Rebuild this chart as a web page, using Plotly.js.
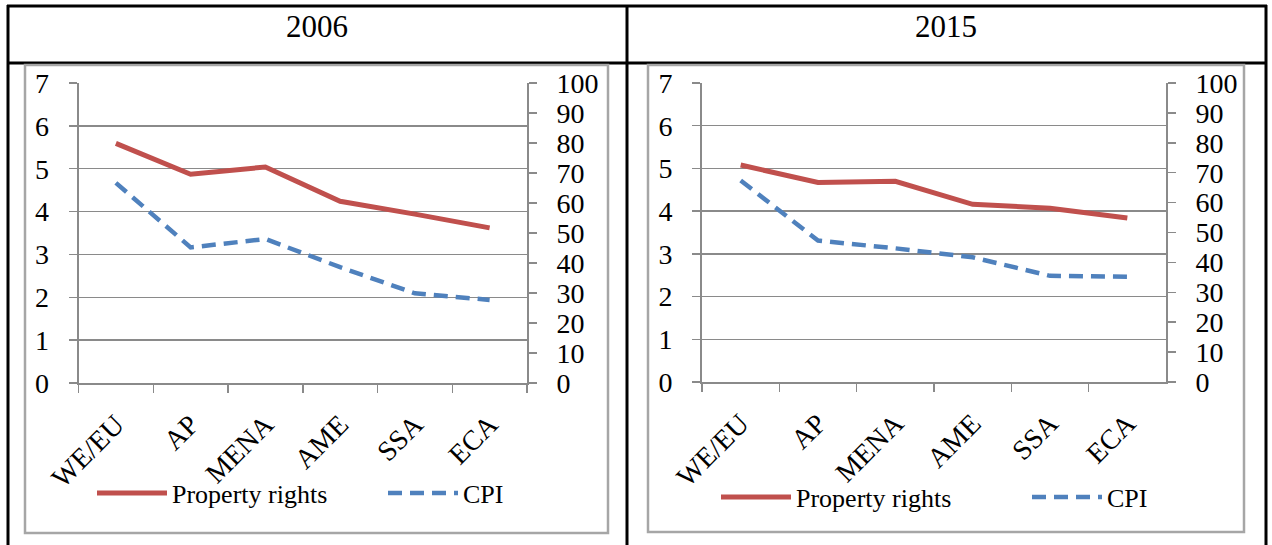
<!DOCTYPE html>
<html>
<head>
<meta charset="utf-8">
<script src="https://cdn.plot.ly/plotly-3.0.1.min.js"></script>
<style>html,body{margin:0;padding:0;background:#fff;overflow:hidden;}#chart{width:1272px;height:545px;}</style>
</head>
<body>
<div id="chart"></div>
<script>
var categories = ["WE/EU", "AP", "MENA", "AME", "SSA", "ECA"];
var panelTitles = ["2006", "2015"];
var seriesNames = ["Property rights", "CPI"];
var property2006 = [5.59, 4.87, 5.04, 4.24, 3.94, 3.62];
var cpi2006 = [66.7, 45.2, 48.0, 38.6, 29.9, 27.7];
var property2015 = [5.08, 4.67, 4.70, 4.16, 4.07, 3.84];
var cpi2015 = [67.4, 47.3, 44.7, 41.7, 35.5, 35.2];
var leftTicks = [0, 1, 2, 3, 4, 5, 6, 7];
var rightTicks = [0, 10, 20, 30, 40, 50, 60, 70, 80, 90, 100];

var W = 1272, H = 545;
function px(x) { return x / W; }
function py(y) { return 1 - y / H; }

var FONT = "Liberation Serif";
var RED = "#C0504D", BLUE = "#4F81BD", GRID = "#8a8a8a";

var traces = [
  {x: categories, y: property2006, name: seriesNames[0], type: "scatter", mode: "lines",
   line: {color: RED, width: 5}, xaxis: "x", yaxis: "y", legend: "legend"},
  {x: categories, y: cpi2006, name: seriesNames[1], type: "scatter", mode: "lines",
   line: {color: BLUE, width: 4.5, dash: "14px,8px"}, xaxis: "x", yaxis: "y2", legend: "legend"},
  {x: categories, y: property2015, name: seriesNames[0], type: "scatter", mode: "lines",
   line: {color: RED, width: 5}, xaxis: "x2", yaxis: "y3", legend: "legend2"},
  {x: categories, y: cpi2015, name: seriesNames[1], type: "scatter", mode: "lines",
   line: {color: BLUE, width: 4.5, dash: "14px,8px"}, xaxis: "x2", yaxis: "y4", legend: "legend2"}
];

function xAxis(domain, anchor) {
  return {domain: domain, anchor: anchor, type: "category", range: [-0.5, 5.5],
    tickson: "boundaries", ticks: "outside", ticklen: 8, tickwidth: 1.5, tickcolor: GRID,
    showline: true, linecolor: GRID, linewidth: 2, showgrid: false, zeroline: false,
    tickangle: -45, ticklabelstandoff: 12,
    tickfont: {family: FONT, size: 28, color: "#000"}, fixedrange: true};
}
function yLeft(domain, anchor) {
  return {domain: domain, anchor: anchor, range: [0, 7], tickvals: leftTicks,
    ticks: "outside", ticklen: 8, tickwidth: 1.5, tickcolor: GRID,
    showline: true, linecolor: GRID, linewidth: 2, showgrid: true, gridcolor: GRID, gridwidth: 1.5,
    zeroline: false, ticklabelstandoff: 14,
    tickfont: {family: FONT, size: 28, color: "#000"}, fixedrange: true};
}
function yRight(overlay, anchor) {
  return {overlaying: overlay, anchor: anchor, side: "right", range: [0, 100], tickvals: rightTicks,
    ticks: "outside", ticklen: 8, tickwidth: 1.5, tickcolor: GRID,
    showline: true, linecolor: GRID, linewidth: 2, showgrid: false, zeroline: false,
    ticklabelstandoff: 14,
    tickfont: {family: FONT, size: 28, color: "#000"}, fixedrange: true};
}

function legendAt(x, y, ew) {
  return {orientation: "h", x: x, y: y, xanchor: "left", yanchor: "middle",
    font: {family: FONT, size: 26, color: "#000"}, bgcolor: "rgba(0,0,0,0)",
    entrywidth: ew, itemwidth: 70, tracegroupgap: 0};
}

var black = {color: "#000", width: 3};
var grayBox = {color: "#a6a6a6", width: 2.5};
var shapes = [
  {type: "line", xref: "paper", yref: "paper", x0: px(7), x1: px(1267), y0: py(6), y1: py(6), line: black},
  {type: "line", xref: "paper", yref: "paper", x0: px(7), x1: px(1267), y0: py(63), y1: py(63), line: black},
  {type: "line", xref: "paper", yref: "paper", x0: px(8), x1: px(8), y0: py(5), y1: py(545), line: black},
  {type: "line", xref: "paper", yref: "paper", x0: px(627), x1: px(627), y0: py(5), y1: py(545), line: black},
  {type: "line", xref: "paper", yref: "paper", x0: px(1266), x1: px(1266), y0: py(5), y1: py(545), line: black},
  {type: "rect", xref: "paper", yref: "paper", x0: px(25), x1: px(608), y0: py(65), y1: py(533), line: grayBox},
  {type: "rect", xref: "paper", yref: "paper", x0: px(648), x1: px(1244), y0: py(65), y1: py(532), line: grayBox}
];

var annotations = [
  {text: panelTitles[0], xref: "paper", yref: "paper", x: px(317), y: py(26), showarrow: false,
   xanchor: "center", yanchor: "middle", font: {family: FONT, size: 31, color: "#000"}},
  {text: panelTitles[1], xref: "paper", yref: "paper", x: px(946), y: py(26), showarrow: false,
   xanchor: "center", yanchor: "middle", font: {family: FONT, size: 31, color: "#000"}}
];

var layout = {
  width: W, height: H, margin: {l: 0, r: 0, t: 0, b: 0, autoexpand: false},
  paper_bgcolor: "#fff", plot_bgcolor: "rgba(0,0,0,0)", showlegend: true,
  xaxis: xAxis([px(78.5), px(527)], "y"),
  yaxis: yLeft([py(383), py(83)], "x"),
  yaxis2: yRight("y", "x"),
  xaxis2: xAxis([px(702), px(1166)], "y3"),
  yaxis3: yLeft([py(382), py(83)], "x2"),
  yaxis4: yRight("y3", "x2"),
  legend: legendAt(px(92), py(493), 206),
  legend2: legendAt(px(716), py(497), 226),
  shapes: shapes, annotations: annotations
};

Plotly.newPlot("chart", traces, layout, {displayModeBar: false, staticPlot: true});
</script>
</body>
</html>
